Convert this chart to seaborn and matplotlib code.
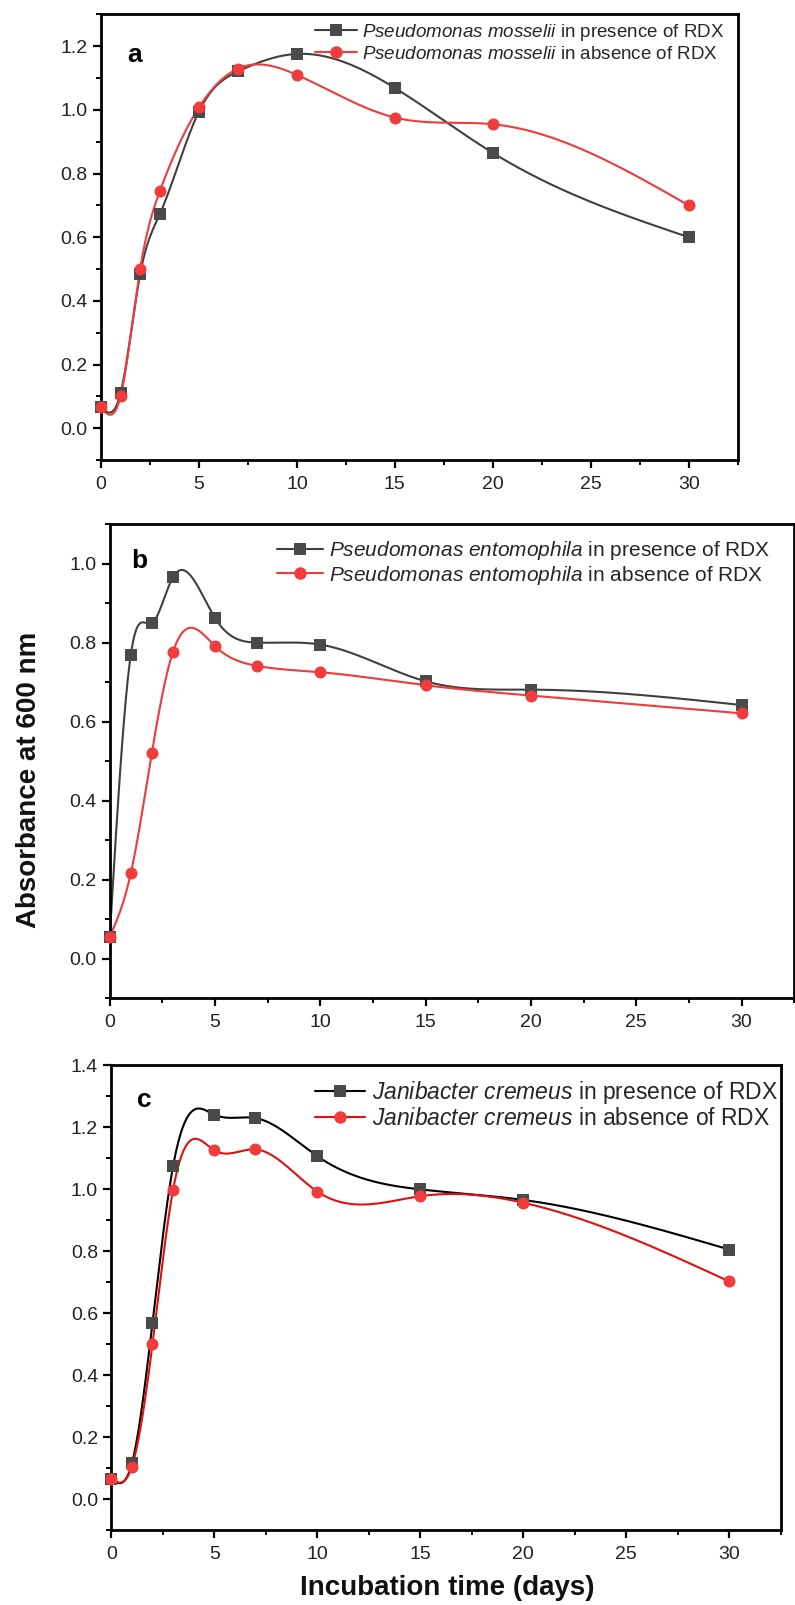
import numpy as np
import pandas as pd
import matplotlib
matplotlib.use("Agg")
import matplotlib.pyplot as plt
import seaborn as sns
from matplotlib.lines import Line2D
from matplotlib.ticker import MultipleLocator, FormatStrFormatter

days = [0, 1, 2, 3, 5, 7, 10, 15, 20, 30]

mosselii_with = [0.065, 0.11, 0.484, 0.672, 0.995, 1.121, 1.176, 1.069, 0.865, 0.600]
mosselii_without = [0.065, 0.10, 0.50, 0.744, 1.008, 1.13, 1.11, 0.976, 0.955, 0.70]

entomophila_with = [0.055, 0.769, 0.849, 0.965, 0.862, 0.80, 0.795, 0.702, 0.681, 0.642]
entomophila_without = [0.055, 0.216, 0.521, 0.776, 0.791, 0.741, 0.725, 0.692, 0.666, 0.621]

cremeus_with = [0.064, 0.115, 0.569, 1.074, 1.240, 1.229, 1.106, 0.999, 0.965, 0.805]
cremeus_without = [0.064, 0.105, 0.50, 0.998, 1.125, 1.128, 0.992, 0.977, 0.956, 0.702]

species = ["Pseudomonas mosselii", "Pseudomonas entomophila", "Janibacter cremeus"]
letters = ["a", "b", "c"]


def spline(x, y, n=600):
    # natural cubic spline, like the smooth line in Origin
    x = np.asarray(x, float)
    y = np.asarray(y, float)
    h = np.diff(x)
    m = len(x)
    A = np.zeros((m, m))
    b = np.zeros(m)
    A[0, 0] = A[-1, -1] = 1
    for i in range(1, m - 1):
        A[i, i - 1] = h[i - 1]
        A[i, i] = 2 * (h[i - 1] + h[i])
        A[i, i + 1] = h[i]
        b[i] = 6 * ((y[i + 1] - y[i]) / h[i] - (y[i] - y[i - 1]) / h[i - 1])
    M = np.linalg.solve(A, b)
    xs = np.linspace(x[0], x[-1], n)
    k = np.clip(np.searchsorted(x, xs) - 1, 0, m - 2)
    t0, t1 = x[k], x[k + 1]
    hh = t1 - t0
    a = (t1 - xs) / hh
    c = (xs - t0) / hh
    ys = a * y[k] + c * y[k + 1] + ((a ** 3 - a) * M[k] + (c ** 3 - c) * M[k + 1]) * hh ** 2 / 6
    return xs, ys


sns.set_theme(style="ticks")
plt.rcParams['font.family'] = ['Liberation Sans', 'DejaVu Sans']
plt.rcParams['mathtext.fontset'] = 'custom'
plt.rcParams['mathtext.rm'] = 'Liberation Sans'
plt.rcParams['mathtext.it'] = 'Liberation Sans:italic'

fig = plt.figure(figsize=(7.95, 16.05), dpi=100)

# axes boxes in figure fractions
boxes = [
    [0.127, 0.7134, 0.801, 0.2776],
    [0.138, 0.378, 0.861, 0.2955],
    [0.140, 0.0467, 0.842, 0.2897],
]
ylims = [(-0.1, 1.3), (-0.1, 1.1), (-0.1, 1.4)]
legend_pos = [(0.325, 1.0), (0.232, 0.985), (0.290, 0.989)]
legend_size = [13.5, 15, 16.5]
legend_space = [0.15, 0.05, 0.04]
letter_pos = [(0.042, 0.909), (0.031, 0.922), (0.039, 0.925)]
gray_line = ["#404040", "#404040", "#000000"]
red_line = ["#ef3b3b", "#ef3b3b", "#e01010"]

series = [
    (mosselii_with, mosselii_without),
    (entomophila_with, entomophila_without),
    (cremeus_with, cremeus_without),
]

for i, (with_rdx, without_rdx) in enumerate(series):
    ax = fig.add_axes(boxes[i])
    gl, rl = gray_line[i], red_line[i]

    for vals, lc, mc, mk in [(with_rdx, gl, "#4a4a4a", "s"), (without_rdx, rl, "#f03c3c", "o")]:
        xs, ys = spline(days, vals)
        sns.lineplot(x=xs, y=ys, ax=ax, color=lc, linewidth=1.5, sort=False)
        df = pd.DataFrame({"day": days, "abs": vals})
        sns.scatterplot(data=df, x="day", y="abs", ax=ax, marker=mk, color=mc,
                        s=75, edgecolor=mc, linewidth=0, zorder=3, clip_on=False)

    ax.set_xlim(0, 32.5)
    ax.set_ylim(*ylims[i])
    ax.xaxis.set_minor_locator(MultipleLocator(2.5))
    ax.yaxis.set_major_locator(MultipleLocator(0.2))
    ax.yaxis.set_minor_locator(MultipleLocator(0.1))
    ax.set_xticks([0, 5, 10, 15, 20, 25, 30])
    ax.yaxis.set_major_formatter(FormatStrFormatter('%.1f'))
    ax.tick_params(which="major", direction="out", length=5.5, width=1.6,
                   labelsize=14, color="black", labelcolor="#222222", pad=4)
    ax.tick_params(which="minor", direction="out", length=3.5, width=1.4, color="black")
    ax.tick_params(axis="x", which="major", pad=6)
    for s in ax.spines.values():
        s.set_linewidth(2.0)
        s.set_color("black")
    ax.set_xlabel("")
    ax.set_ylabel("")

    sp = species[i].split()
    name = r"$\it{" + sp[0] + r"}$ $\it{" + sp[1] + r"}$"
    handles = [
        Line2D([], [], color=gl, lw=1.5, marker="s", markersize=8, markerfacecolor="#4a4a4a",
               markeredgewidth=0),
        Line2D([], [], color=rl, lw=1.5, marker="o", markersize=9, markerfacecolor="#f03c3c",
               markeredgewidth=0),
    ]
    ax.legend(handles, [name + " in presence of RDX", name + " in absence of RDX"],
              loc="upper left", bbox_to_anchor=legend_pos[i], frameon=False,
              fontsize=legend_size[i], handlelength=2.2, handletextpad=0.3, borderaxespad=0.2,
              labelspacing=legend_space[i], borderpad=0.2)

    ax.text(letter_pos[i][0], letter_pos[i][1], letters[i], transform=ax.transAxes,
            fontsize=19, fontweight="bold", ha="left", va="center", color="black")

fig.text(0.036, 0.514, "Absorbance at 600 nm", rotation=90, ha="center", va="center",
         fontsize=20, fontweight="bold", color="#111111")
fig.text(0.562, 0.0106, "Incubation time (days)", ha="center", va="center",
         fontsize=20, fontweight="bold", color="#111111")

fig.savefig("out.png", dpi=100)
plt.close(fig)
